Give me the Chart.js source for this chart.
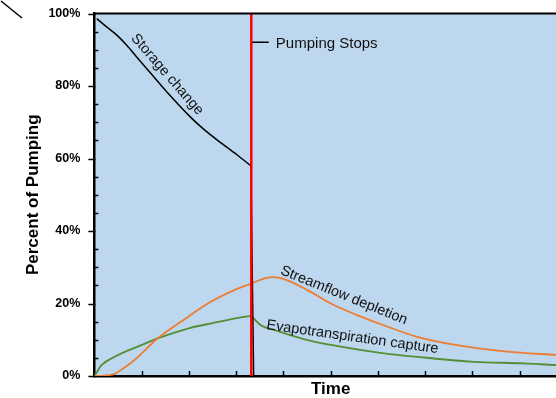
<!DOCTYPE html>
<html>
<head>
<meta charset="utf-8">
<script src="https://cdn.jsdelivr.net/npm/chart.js@4.4.1/dist/chart.umd.min.js"></script>
<style>
  html, body { margin: 0; padding: 0; overflow: hidden; background: #fff; }
  #wrap { width: 570px; height: 398px; }
</style>
</head>
<body>
<div id="wrap"><canvas id="chart"></canvas></div>
<script>
// time axis in arbitrary units, pumping stops at PUMP_STOP
const PUMP_STOP = 3.32;

const storageTime = [0.05, 0.26, 0.47, 0.68, 0.89, 1.10, 1.31, 1.53, 2.05, 2.33, 2.68, 3.03, 3.31, 3.37];
const storageVals = [98.6, 96.3, 94.1, 91.3, 88.1, 84.9, 81.7, 78.4, 71.2, 67.9, 64.3, 60.9, 58.0, 0];

const streamTime = [0, 0.21, 0.43, 0.57, 0.85, 1.34, 1.98, 2.40, 2.96, 3.32, 3.60, 3.78, 4.00, 4.51, 5.00, 5.56, 6.12, 6.83, 7.67, 8.73, 9.77, 10];
const streamVals = [0, 0.1, 0.6, 1.7, 4.4, 10.4, 16.3, 20.0, 23.7, 25.5, 26.9, 27.3, 26.8, 23.7, 20.0, 16.8, 14.0, 10.8, 8.5, 6.7, 5.8, 5.6];

const etTime = [0, 0.08, 0.15, 0.43, 0.99, 1.41, 1.98, 2.54, 3.10, 3.32, 3.52, 3.80, 4.51, 5.21, 6.05, 6.97, 8.02, 9.08, 9.77, 10];
const etVals = [0, 1.65, 3.0, 5.3, 8.5, 10.7, 13.1, 14.7, 16.2, 16.6, 14.0, 12.7, 9.9, 8.1, 6.4, 5.1, 3.9, 3.5, 3.0, 2.9];

const yTicks = [0, 20, 40, 60, 80, 100];

// curve labels: [text, x, y, angle in degrees]
const curveLabels = [
  ['Storage change', 1.54, 83.2, 49],
  ['Streamflow depletion', 5.28, 22.2, 22],
  ['Evapotranspiration capture', 5.46, 10.7, 8]
];

function pts(xs, ys) {
  return xs.map(function (x, i) { return { x: x, y: ys[i] }; });
}
function ptsWhere(xs, ys, test) {
  return pts(xs, ys).filter(function (p) { return test(p.x); });
}

const chartBg = {
  id: 'chartBg',
  beforeDraw: function (chart) {
    const c = chart.ctx, a = chart.chartArea;
    c.save();
    c.fillStyle = '#ffffff';
    c.fillRect(0, 0, chart.width, chart.height);
    c.fillStyle = '#BDD7EE';
    c.fillRect(a.left, a.top, a.right - a.left, a.bottom - a.top);
    c.restore();
  },
  afterDraw: function (chart) {
    const c = chart.ctx, a = chart.chartArea;
    const xs = chart.scales.x, ys = chart.scales.y;
    c.save();
    c.strokeStyle = '#000';
    // top frame
    c.lineWidth = 2;
    c.beginPath();
    c.moveTo(a.left, a.top);
    c.lineTo(a.right, a.top);
    c.stroke();
    // x ticks (inward)
    c.lineWidth = 1.5;
    for (let t = 1; t < 10; t++) {
      const px = Math.round(xs.getPixelForValue(t)) + 0.5;
      c.beginPath();
      c.moveTo(px, a.bottom);
      c.lineTo(px, a.bottom - 5);
      c.stroke();
    }
    // y ticks: major outward, minor inward
    for (let v = 0; v <= 100; v += 5) {
      const py = Math.round(ys.getPixelForValue(v)) + 0.5;
      c.beginPath();
      if (v % 20 === 0) {
        c.moveTo(a.left - 6, py);
        c.lineTo(a.left + 1, py);
      } else {
        c.moveTo(a.left, py);
        c.lineTo(a.left + 4, py);
      }
      c.stroke();
    }
    // corner stroke from the source figure
    c.lineWidth = 1.5;
    c.beginPath();
    c.moveTo(1, 1);
    c.lineTo(22, 18);
    c.stroke();
    // labels
    c.fillStyle = '#111';
    c.font = '14.5px "Liberation Sans", Arial, sans-serif';
    c.textAlign = 'center';
    c.textBaseline = 'middle';
    curveLabels.forEach(function (l) {
      c.save();
      c.translate(xs.getPixelForValue(l[1]), ys.getPixelForValue(l[2]));
      c.rotate(l[3] * Math.PI / 180);
      c.fillText(l[0], 0, 0);
      c.restore();
    });
    c.font = '15px "Liberation Sans", Arial, sans-serif';
    c.textAlign = 'left';
    c.fillText('Pumping Stops', xs.getPixelForValue(3.84), ys.getPixelForValue(91.6));
    c.restore();
  }
};

const lineBase = { pointRadius: 0, cubicInterpolationMode: 'monotone' };

new Chart(document.getElementById('chart').getContext('2d'), {
  type: 'line',
  data: {
    datasets: [
      {
        label: 'Pumping stops',
        data: [{ x: PUMP_STOP, y: 0 }, { x: PUMP_STOP, y: 100 }],
        borderColor: '#FF0000',
        borderWidth: 2.5,
        pointRadius: 0
      },
      {
        label: 'leader',
        data: [{ x: PUMP_STOP, y: 92.1 }, { x: 3.69, y: 92.1 }],
        borderColor: '#000',
        borderWidth: 1.5,
        pointRadius: 0
      },
      Object.assign({
        label: 'Storage change',
        data: pts(storageTime.slice(0, -1), storageVals.slice(0, -1)),
        borderColor: '#000000',
        borderWidth: 1.5
      }, lineBase),
      {
        label: 'Storage drop',
        data: pts(storageTime.slice(-2), storageVals.slice(-2)),
        borderColor: '#000000',
        borderWidth: 1.5,
        pointRadius: 0
      },
      Object.assign({
        label: 'Streamflow depletion',
        data: pts(streamTime, streamVals),
        borderColor: '#ED7D31',
        borderWidth: 1.8
      }, lineBase),
      Object.assign({
        label: 'ET capture (pumping)',
        data: ptsWhere(etTime, etVals, function (t) { return t <= PUMP_STOP; }),
        borderColor: '#548E35',
        borderWidth: 1.8
      }, lineBase),
      Object.assign({
        label: 'ET capture (recovery)',
        data: ptsWhere(etTime, etVals, function (t) { return t >= PUMP_STOP; }),
        borderColor: '#548E35',
        borderWidth: 1.8
      }, lineBase)
    ]
  },
  options: {
    responsive: true,
    maintainAspectRatio: false,
    animation: false,
    layout: { padding: { left: 23, top: 13.5, right: 3, bottom: 0 } },
    plugins: {
      legend: { display: false },
      tooltip: { enabled: false }
    },
    scales: {
      x: {
        type: 'linear',
        min: 0,
        max: 10,
        grid: { display: false, drawTicks: false },
        border: { display: true, color: '#000', width: 2.5 },
        ticks: { display: false },
        title: {
          display: true,
          text: 'Time',
          color: '#000',
          font: { family: '"Liberation Sans", Arial, sans-serif', size: 17, weight: 'bold', lineHeight: 1 },
          padding: { top: 5, bottom: 0 }
        }
      },
      y: {
        min: 0,
        max: 100,
        afterBuildTicks: function (scale) {
          scale.ticks = yTicks.map(function (v) { return { value: v }; });
        },
        afterFit: function (scale) {
          // labels sit beside the frame, no extra room needed above/below
          scale.paddingTop = 0;
          scale.paddingBottom = 0;
        },
        grid: { display: false, drawTicks: false },
        border: { display: true, color: '#000', width: 2.5 },
        ticks: {
          padding: 14,
          color: '#000',
          font: { family: '"Liberation Sans", Arial, sans-serif', size: 12.5, weight: 'bold' },
          callback: function (v) { return v + '%'; }
        },
        title: {
          display: true,
          text: 'Percent of Pumping',
          color: '#000',
          font: { family: '"Liberation Sans", Arial, sans-serif', size: 17, weight: 'bold', lineHeight: 1.2 },
          padding: { top: 0, bottom: -9 }
        }
      }
    }
  },
  plugins: [chartBg]
});
</script>
</body>
</html>
